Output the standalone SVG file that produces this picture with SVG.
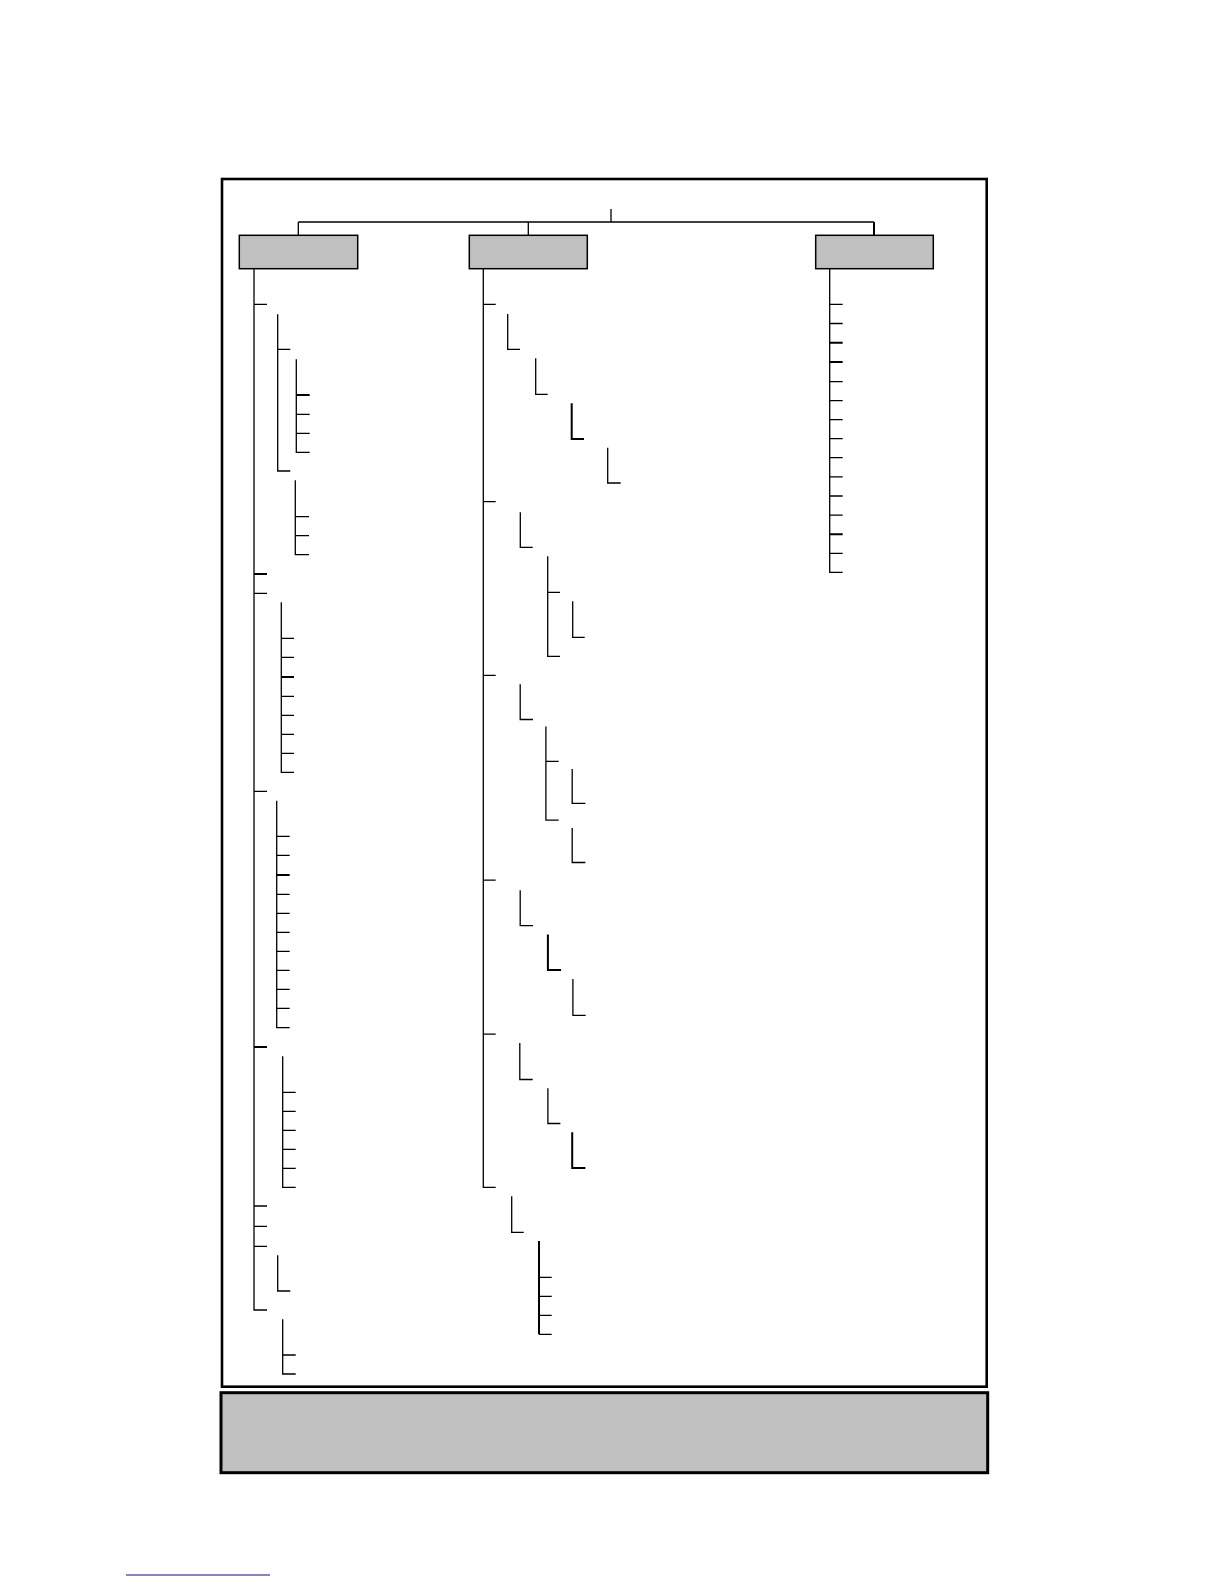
<svg xmlns="http://www.w3.org/2000/svg" width="1224" height="1584" viewBox="0 0 1224 1584">
<style>
.bg{fill:#ffffff}
.frame{fill:none;stroke:#000;stroke-width:2.6}
.foot{fill:#c0c0c0;stroke:#000;stroke-width:3}
.node{fill:#c0c0c0;stroke:#000;stroke-width:1.5}
.ln{fill:none;stroke:#000;stroke-width:1.3}
.th{fill:none;stroke:#000;stroke-width:2}
.blue{stroke:#0a0aa0;stroke-width:1.2}
</style>
<rect class="bg" x="0" y="0" width="1224" height="1584"/>
<g id="frame"><rect class="frame" x="222" y="179" width="764.7" height="1207.7"/></g>
<g id="footer"><rect class="foot" x="221" y="1392.7" width="766.7" height="80"/></g>
<g id="node-left"><rect class="node" x="239.3" y="235.3" width="118.4" height="33.4"/></g>
<g id="node-middle"><rect class="node" x="469.3" y="235.3" width="118" height="33.4"/></g>
<g id="node-right"><rect class="node" x="815.7" y="235.3" width="117.6" height="33.4"/></g>
<g id="connectors">
<path class="ln" d="M611,209V222M298.3,222H874M298.3,222V235.3M528.3,222V235.3"/>
<path class="th" d="M874,222V235.3"/>
<!-- left tree -->
<path class="ln" d="M254,268.7V1310H267M254,304.3H267M254,593.3H267M254,791.3H267M254,1206H267M254,1226.3H267M254,1246.3H267"/>
<path class="th" d="M254,574H267M254,1047H267"/>
<path class="ln" d="M277.7,314.3V471H290.3M277.7,349.3H290.3"/>
<path class="ln" d="M296.3,359.3V452.3H309.7M296.3,414.3H309.7M296.3,433.3H309.7"/>
<path class="th" d="M296.3,395H309.7"/>
<path class="ln" d="M295.3,480.3V554.7H309M295.3,516.7H309M295.3,535.7H309"/>
<path class="ln" d="M281.3,602.3V772.3H294M281.3,638.3H294M281.3,657.3H294M281.3,696.3H294M281.3,715.3H294M281.3,734.3H294M281.3,753.3H294"/>
<path class="th" d="M281.3,677H294"/>
<path class="ln" d="M276.7,800.7V1027.7H289.7M276.7,836.3H289.7M276.7,855.3H289.7M276.7,894.3H289.7M276.7,913.3H289.7M276.7,932.3H289.7M276.7,951.3H289.7M276.7,970.3H289.7M276.7,989.3H289.7M276.7,1008.3H289.7"/>
<path class="th" d="M276.7,875H289.7"/>
<path class="ln" d="M282.7,1056.3V1187.3H295.7M282.7,1092.3H295.7M282.7,1111.3H295.7M282.7,1130.3H295.7M282.7,1149.3H295.7M282.7,1168.3H295.7"/>
<path class="ln" d="M277.7,1255.3V1291H290.3"/>
<path class="ln" d="M282.7,1319.3V1374H295.7M282.7,1355H295.7"/>
<!-- middle tree -->
<path class="ln" d="M483.3,268.7V1187.3H495.7M483.3,304.3H495.7M483.3,501.7H495.7M483.3,675.3H495.7M483.3,880.1H495.7M483.3,1034.2H495.7"/>
<path class="ln" d="M507.7,314V349.3H520M535.7,358.3V394.3H547.7"/>
<path class="th" d="M571.7,403.3V439H584"/>
<path class="ln" d="M607.7,447.7V483H620.7"/>
<path class="ln" d="M520.3,512.3V547.3H532.7M547.7,556.3V656.3H560M547.7,592.3H560M572.7,601.3V637.3H584.7"/>
<path class="ln" d="M520.2,684.3V719.5H533M545.9,726.6V820.2H558.7M545.9,761.4H558.7M572.2,768.9V803.3H585.4M572.2,828V862.5H585.4"/>
<path class="ln" d="M520.2,890.2V925.7H533M572.9,979.1V1015.3H585.7"/>
<path class="th" d="M547.9,934.5V970H561.1"/>
<path class="ln" d="M519.8,1043V1079.5H532.7M547.9,1088.3V1123.5H560.4"/>
<path class="th" d="M572.2,1132.3V1168.1H585.4"/>
<path class="ln" d="M511.7,1196.3V1232.3H523.7"/>
<path class="th" d="M539,1241V1334.3"/>
<path class="ln" d="M539,1277.3H551.7M539,1296.3H551.7M539,1315.3H551.7M539,1334.3H551.7"/>
<!-- right tree -->
<path class="ln" d="M829.7,268.7V572.3H842.7M829.7,304.3H842.7M829.7,323.5H842.7M829.7,381.7H842.7M829.7,400.7H842.7M829.7,419.7H842.7M829.7,438.7H842.7M829.7,457.7H842.7M829.7,476.9H842.7M829.7,496H842.7M829.7,515.2H842.7M829.7,553.3H842.7"/>
<path class="th" d="M829.7,342.8H842.7M829.7,362H842.7M829.7,534.2H842.7"/>
<path class="blue" d="M126,1575H270"/>
</g>
</svg>
